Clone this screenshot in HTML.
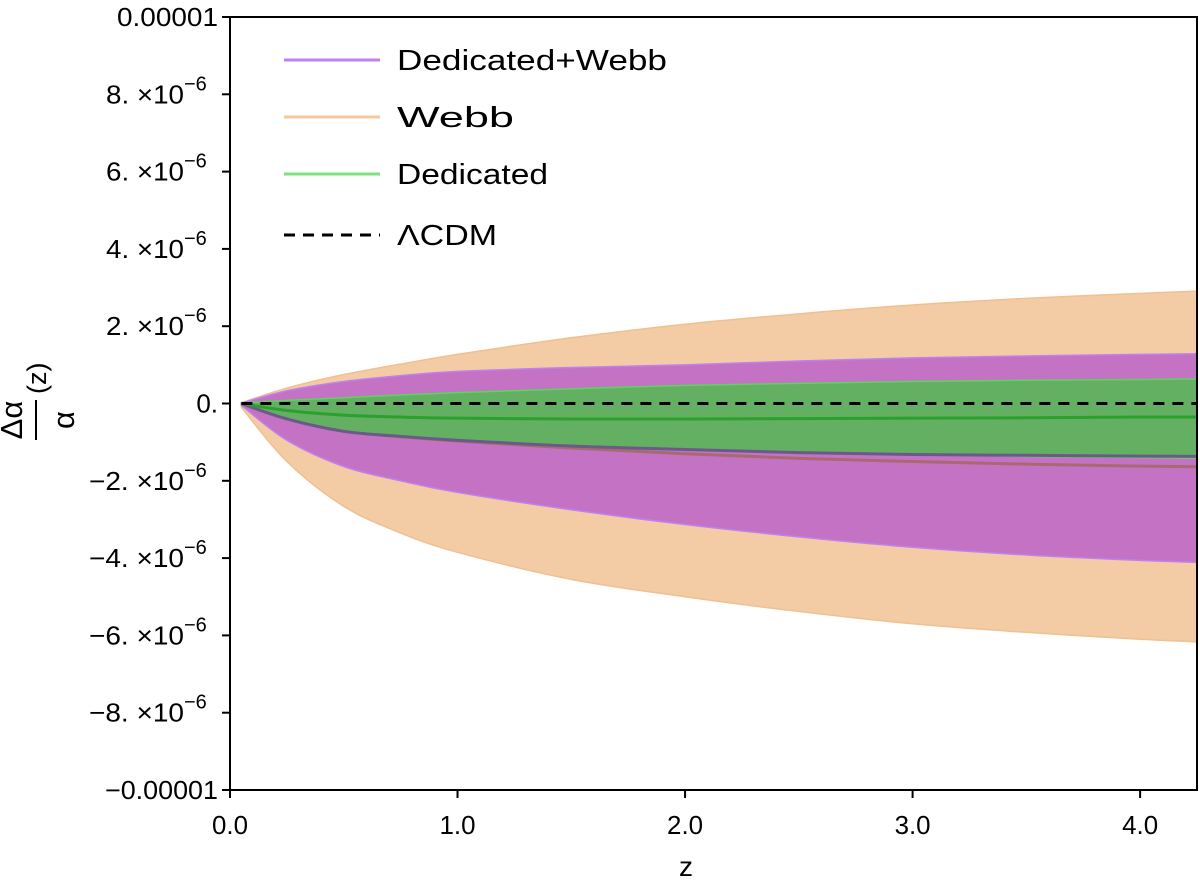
<!DOCTYPE html>
<html><head><meta charset="utf-8"><style>
body{margin:0;background:#fff}
svg{display:block;font-family:"Liberation Sans","DejaVu Sans",sans-serif}
</style></head><body>
<svg id="chart" width="1200" height="883">
<defs><clipPath id="clip"><rect x="230" y="17" width="967" height="773"/></clipPath></defs>
<g id="bands" clip-path="url(#clip)"></g>
<g id="axes"></g>
<text x="686" y="876" text-anchor="middle" font-size="28">z</text>
<g transform="rotate(-90 36 420)" font-size="31">
<text x="36" y="406" text-anchor="middle">Δα</text>
<line x1="16" x2="56" y1="420" y2="420" stroke="#000" stroke-width="2"/>
<text x="36" y="458" text-anchor="middle">α</text>
<text x="62" y="430" font-size="27">(z)</text>
</g>
<g font-size="29">
<g><line x1="284" x2="380" y1="60" y2="60" stroke="#c07ef0" stroke-width="3"/><text x="397" y="70" textLength="270" lengthAdjust="spacingAndGlyphs">Dedicated+Webb</text></g>
<g><line x1="284" x2="380" y1="117" y2="117" stroke="#f5c8a0" stroke-width="3"/><text x="397" y="127" textLength="117" lengthAdjust="spacingAndGlyphs">Webb</text></g>
<g><line x1="284" x2="380" y1="174" y2="174" stroke="#7fe07f" stroke-width="3"/><text x="397" y="184" textLength="151" lengthAdjust="spacingAndGlyphs">Dedicated</text></g>
<g><line x1="284" x2="380" y1="235" y2="235" stroke="#000" stroke-width="3" stroke-dasharray="11,8"/><text x="397" y="245" textLength="100" lengthAdjust="spacingAndGlyphs">ΛCDM</text></g>
</g>
</svg>
<script>
const zs       = [0.05, 0.25, 0.5, 0.75, 1.0, 1.5, 2.0, 2.5, 3.0, 3.5, 4.0, 4.3];
const webbUp   = [0.02, 0.4, 0.75, 1.02, 1.27, 1.7, 2.05, 2.32, 2.55, 2.72, 2.85, 2.92];
const webbLo   = [-0.1, -1.5, -2.66, -3.35, -3.85, -4.55, -5.0, -5.38, -5.7, -5.92, -6.1, -6.18];
const dwUp     = [0.01, 0.33, 0.57, 0.72, 0.83, 0.93, 1.0, 1.1, 1.18, 1.23, 1.27, 1.29];
const dwLo     = [-0.05, -0.95, -1.63, -2.0, -2.3, -2.75, -3.13, -3.45, -3.72, -3.92, -4.06, -4.12];
const dedUp    = [0.01, 0.08, 0.15, 0.22, 0.28, 0.38, 0.47, 0.52, 0.57, 0.6, 0.62, 0.64];
const dedLo    = [-0.02, -0.4, -0.72, -0.84, -0.93, -1.08, -1.19, -1.27, -1.32, -1.37, -1.4, -1.42];
const dedMean  = [0, -0.18, -0.3, -0.35, -0.38, -0.4, -0.4, -0.39, -0.38, -0.37, -0.35, -0.35];
const dwMean   = [0, -0.4, -0.72, -0.85, -0.95, -1.1, -1.19, -1.27, -1.32, -1.34, -1.36, -1.37];
const webbMean = [0, -0.4, -0.72, -0.86, -0.97, -1.15, -1.3, -1.42, -1.5, -1.57, -1.62, -1.64];
const xTicks = [0,1,2,3,4];
const xTickLabels = ["0.0","1.0","2.0","3.0","4.0"];
const yTicks = [10,8,6,4,2,0,-2,-4,-6,-8,-10];
const yTickLabels = ["0.00001","8. \u00d710","6. \u00d710","4. \u00d710","2. \u00d710","0.","\u22122. \u00d710","\u22124. \u00d710","\u22126. \u00d710","\u22128. \u00d710","\u22120.00001"];

const X0=230,X1=1197,Y0=17,Y1=790;
const xs=z=>X0+(z-0)/(4.25)*(X1-X0);
const ys=v=>Y0+(10-v)/20*(Y1-Y0);
const NS="http://www.w3.org/2000/svg";
function mk(tag,attrs,parent){const e=document.createElementNS(NS,tag);for(const k in attrs)e.setAttribute(k,attrs[k]);parent.appendChild(e);return e;}
const bands=document.getElementById('bands'),axes=document.getElementById('axes');
function smooth(pts,start){
  let d=start?"M"+pts[0][0]+","+pts[0][1]:" L"+pts[0][0]+","+pts[0][1];
  for(let i=0;i<pts.length-1;i++){
    const p0=pts[Math.max(0,i-1)],p1=pts[i],p2=pts[i+1],p3=pts[Math.min(pts.length-1,i+2)];
    const c1=[p1[0]+(p2[0]-p0[0])/6,p1[1]+(p2[1]-p0[1])/6];
    const c2=[p2[0]-(p3[0]-p1[0])/6,p2[1]-(p3[1]-p1[1])/6];
    d+=" C"+c1[0]+","+c1[1]+" "+c2[0]+","+c2[1]+" "+p2[0]+","+p2[1];
  }
  return d;
}
function band(up,lo,fill,stroke,name){
  const u=zs.map((z,i)=>[xs(z),ys(up[i])]);
  const l=zs.map((z,i)=>[xs(z),ys(lo[i])]).reverse();
  const d=smooth(u,true)+smooth(l,false)+"Z";
  const p=mk('path',{d:d,fill:fill,stroke:stroke,'stroke-width':1.5},bands);
  
  
}
function line(arr,color,w,name){
  const p=mk('path',{d:smooth(zs.map((z,i)=>[xs(z),ys(arr[i])]),true),fill:"none",stroke:color,'stroke-width':w},bands);
  
  
}
band(webbUp,webbLo,"#f3cba5","#f0c090","webb-band");
band(dwUp,dwLo,"#c472c4","#c080f0","dedicated-webb-band");
band(dedUp,dedLo,"#63b063","#5fd35f","dedicated-band");
line(webbMean,"#a86a70",3,"webb-mean-line");
line(dwMean,"#6a5a8a",3,"dedicated-webb-mean-line");
line(dedMean,"#2ca02c",3,"dedicated-mean-line");
const lc=mk('line',{x1:xs(0.05),x2:X1,y1:ys(0),y2:ys(0),stroke:"#000",'stroke-width':3,'stroke-dasharray':"11,8"},bands);



mk('rect',{x:X0,y:Y0,width:X1-X0,height:Y1-Y0,fill:"none",stroke:"#000",'stroke-width':2},axes);
xTicks.forEach((t,i)=>{
  const x=xs(t);
  mk('line',{x1:x,x2:x,y1:Y1,y2:Y1+8,stroke:"#000",'stroke-width':2},axes);
  const tx=mk('text',{x:x,y:Y1+44,'text-anchor':'middle','font-size':26,textLength:36,lengthAdjust:'spacingAndGlyphs'},axes);
  tx.textContent=xTickLabels[i];
  
  
});
yTicks.forEach((t,i)=>{
  const y=ys(t);
  mk('line',{x1:X0-8,x2:X0,y1:y,y2:y,stroke:"#000",'stroke-width':2},axes);
  const lab=yTickLabels[i];
  const tx=mk('text',{x:X0-12,y:y+9,'text-anchor':'end','font-size':26},axes);
  if(lab.endsWith("10")){
    tx.setAttribute('x',184);
    tx.textContent=lab;
    tx.setAttribute('textLength',lab.length>6?95:78);
    tx.setAttribute('lengthAdjust','spacingAndGlyphs');
    const sup=mk('text',{x:184,y:y-4,'text-anchor':'start','font-size':20},axes);
    sup.textContent="\u22126";
    
    
  } else {
    tx.textContent=lab;
    if(lab.length>3){tx.setAttribute('textLength',lab.length===7?101:113);tx.setAttribute('lengthAdjust','spacingAndGlyphs');}
  }
  
  
});
</script>
</body></html>
